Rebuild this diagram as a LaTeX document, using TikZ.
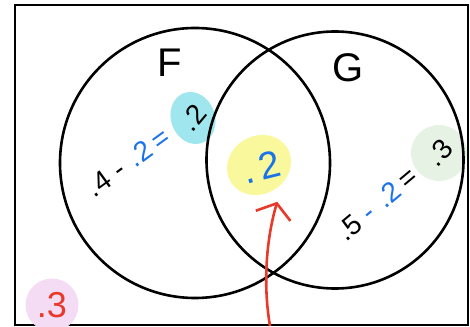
\documentclass[tikz,border=0pt]{standalone}
\usepackage{fontspec}
\setmainfont{Liberation Sans}
\usetikzlibrary{shapes.geometric, arrows.meta, positioning}
\definecolor{penblue}{RGB}{26,115,232}
\definecolor{penred}{RGB}{232,57,42}
\definecolor{blobcyan}{RGB}{160,230,238}
\definecolor{blobyellow}{RGB}{250,248,156}
\definecolor{blobgreen}{RGB}{230,242,228}
\definecolor{blobpink}{RGB}{244,221,244}
\tikzset{
  venn/.style={circle, draw, line width=2.6pt, inner sep=0pt},
  blob/.style={ellipse, inner sep=0pt},
  setlabel/.style={font=\fontsize{40}{40}\selectfont},
  calc/.style={font=\fontsize{28}{28}\selectfont, inner sep=0pt}
}

\begin{document}
\begin{tikzpicture}[x=1pt, y=1pt]
        \useasboundingbox (0,0) rectangle (470,326);
        % Universe
        \draw[line width=2.4pt] (15,321) rectangle (468,1);

        % Blobs
        \node[blob, fill=blobcyan, minimum width=44pt, minimum height=53pt, rotate=20] (cbl) at (193,208) {};
        \node[blob, fill=blobyellow, minimum width=66pt, minimum height=58pt, rotate=30] (ybl) at (259,161) {};
        \node[blob, fill=blobgreen, minimum width=56pt, minimum height=56pt] (gbl) at (439,173) {};
        \node[blob, fill=blobpink, minimum width=53pt, minimum height=53pt] (pbl) at (52,21) {};

        % Sets
        \node[venn, minimum size=270pt] (F) at (195,163) {};
        \node[venn, minimum size=257pt] (G) at (335,166) {};
        \node[setlabel] (Flab) at (170,263) {F};
        \node[setlabel] (Glab) at (348,258) {G};

        % Only F
        \node[calc, rotate=36] (fonly) at (128,164) {.4\hspace{8pt}-\hspace{10pt}\textcolor{penblue}{.2\hspace{6pt}=}};
        \node[calc, rotate=50] (fshare) at (cbl) {.\hspace{2pt}2};

        % Both
        \node[font=\fontsize{38}{38}\selectfont, text=penblue, rotate=14] (both) at (262,159) {.\hspace{6pt}2};

        % Only G
        \node[calc, rotate=40] (gonly) at (377,122) {.5\hspace{8pt}\textcolor{penblue}{-\hspace{10pt}.2}\hspace{6pt}=};
        \node[calc, rotate=48] (gshare) at (gbl) {.\hspace{2pt}3};

        % Neither
        \node[font=\fontsize{36}{36}\selectfont, text=penred] (none) at (pbl) {.3};

        % Pointer
        \coordinate (foot) at (270,0);
        \draw[penred, line width=2.6pt, -{Straight Barb[length=13pt, width=36pt]}, shorten >=12pt]
          (foot) .. controls (263,41) and (266,86) .. ([xshift=7pt]ybl.south);
    \end{tikzpicture}
\end{document}
